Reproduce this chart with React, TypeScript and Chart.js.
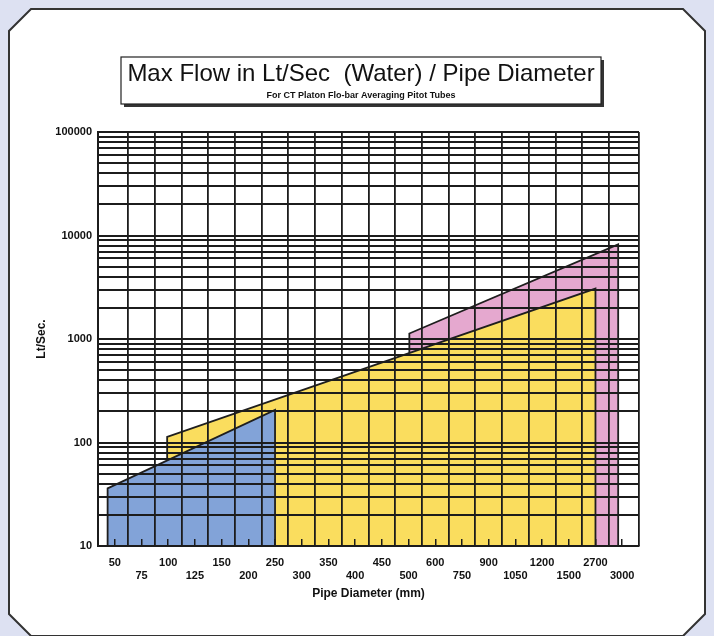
import React, { useEffect, useRef } from 'react';
import { Chart, registerables } from 'chart.js';

Chart.register(...registerables);

// ---- data ----
const categories = ['50', '75', '100', '125', '150', '200', '250', '300', '350', '400', '450', '500', '600', '750', '900', '1050', '1200', '1500', '2700', '3000'];
const yLabelValues = [10, 100, 1000, 10000, 100000];
const yDecades = [10, 100, 1000, 10000];
const yMultipliers = [1, 2, 3, 4, 5, 6, 7, 8, 9];

// polygon vertices: x = position on the pipe-diameter axis (category index), y = Lt/Sec
const blueX = [-0.27, -0.27, 6, 6];
const blueY = [10, 36, 206, 10];
const yellowX = [1.96, 1.96, 18, 18];
const yellowY = [10, 113, 3070, 10];
const pinkX = [11.03, 11.03, 18.85, 18.85];
const pinkY = [10, 1130, 8220, 10];

const xMin = -0.63;
const xMax = 19.63;

const FONT = '"Liberation Sans", Arial, Helvetica, sans-serif';
const GRID = '#1c1c1c';

const toPoints = (xs: number[], ys: number[]) => xs.map((x, i) => ({ x, y: ys[i] }));

const decorPlugin = {
  id: 'decor',
  beforeDraw(chart: any) {
    const ctx = chart.ctx as CanvasRenderingContext2D;
    const W = chart.width;
    const H = chart.height;
    ctx.save();
    ctx.fillStyle = '#dde1f2';
    ctx.fillRect(0, 0, W, H);
    // panel
    const L = 9, T = 9, R = 705, B = 636, c = 22;
    ctx.beginPath();
    ctx.moveTo(L + c, T);
    ctx.lineTo(R - c, T);
    ctx.lineTo(R, T + c);
    ctx.lineTo(R, B - c);
    ctx.lineTo(R - c, B);
    ctx.lineTo(L + c, B);
    ctx.lineTo(L, B - c);
    ctx.lineTo(L, T + c);
    ctx.closePath();
    ctx.fillStyle = '#ffffff';
    ctx.fill();
    ctx.lineWidth = 2;
    ctx.strokeStyle = '#333333';
    ctx.stroke();
    // title box with shadow
    const bx = 121, by = 57, bw = 480, bh = 47;
    ctx.fillStyle = '#333333';
    ctx.fillRect(bx + 3, by + 3, bw, bh);
    ctx.fillStyle = '#ffffff';
    ctx.fillRect(bx, by, bw, bh);
    ctx.lineWidth = 1.2;
    ctx.strokeStyle = '#222222';
    ctx.strokeRect(bx, by, bw, bh);
    ctx.fillStyle = '#111111';
    ctx.textAlign = 'center';
    ctx.textBaseline = 'middle';
    ctx.font = `24px ${FONT}`;
    ctx.fillText('Max Flow in Lt/Sec  (Water) / Pipe Diameter', bx + bw / 2, 74);
    ctx.font = `bold 9px ${FONT}`;
    ctx.fillText('For CT Platon Flo-bar Averaging Pitot Tubes', bx + bw / 2, 96);
    ctx.restore();
  },
};

export default function App() {
  const canvasRef = useRef<HTMLCanvasElement | null>(null);

  useEffect(() => {
    if (!canvasRef.current) return;
    const yGridValues: number[] = [];
    yDecades.forEach((d) => yMultipliers.forEach((m) => yGridValues.push(d * m)));
    yGridValues.push(100000);
    const xGridValues: number[] = categories.slice(0, categories.length - 1).map((_, i) => i + 0.5);
    xGridValues.push(xMax);

    const tickFont = { family: FONT, size: 11, weight: 'bold' as const };

    const chart = new Chart(canvasRef.current, {
      type: 'line',
      data: {
        datasets: [
          {
            label: 'blue',
            data: toPoints(blueX, blueY),
            backgroundColor: '#82a3d8',
            borderColor: '#1e1e1e',
            borderWidth: 1.8,
            pointRadius: 0,
            fill: 'start',
            tension: 0,
          },
          {
            label: 'yellow',
            data: toPoints(yellowX, yellowY),
            backgroundColor: '#fadd5e',
            borderColor: '#1e1e1e',
            borderWidth: 1.8,
            pointRadius: 0,
            fill: 'start',
            tension: 0,
          },
          {
            label: 'pink',
            data: toPoints(pinkX, pinkY),
            backgroundColor: '#e5a8cf',
            borderColor: '#1e1e1e',
            borderWidth: 1.8,
            pointRadius: 0,
            fill: 'start',
            tension: 0,
          },
        ],
      },
      options: {
        responsive: false,
        animation: false,
        devicePixelRatio: 1,
        layout: { padding: { top: 132, left: 0, right: 75, bottom: 30 } },
        plugins: {
          legend: { display: false },
          tooltip: { enabled: false },
          title: { display: false },
        },
        scales: {
          x: {
            type: 'linear',
            position: 'bottom',
            min: xMin,
            max: xMax,
            afterBuildTicks: (s: any) => {
              s.ticks = categories.map((_, i) => ({ value: i }));
            },
            afterFit: (s: any) => {
              s.height = 60;
            },
            ticks: {
              autoSkip: false,
              maxRotation: 0,
              minRotation: 0,
              padding: 17,
              color: '#111111',
              font: tickFont,
              callback: (v: any) => {
                const i = Math.round(Number(v));
                const lab = categories[i] ?? '';
                return i % 2 === 0 ? lab : ['', lab];
              },
            },
            grid: { drawOnChartArea: false, drawTicks: true, tickLength: -7, color: GRID, lineWidth: 1.5, z: 1 },
            border: { display: true, color: GRID, width: 2, z: 2 },
            title: {
              display: true,
              text: 'Pipe Diameter (mm)',
              color: '#111111',
              font: { family: FONT, size: 12, weight: 'bold' },
              padding: { top: 0, bottom: 5 },
            },
          },
          xg: {
            type: 'linear',
            position: 'top',
            min: xMin,
            max: xMax,
            afterBuildTicks: (s: any) => {
              s.ticks = xGridValues.map((v) => ({ value: v }));
            },
            afterFit: (s: any) => {
              s.height = 0;
            },
            ticks: { display: false },
            grid: { drawTicks: false, color: GRID, lineWidth: 1.8, z: 1 },
            border: { display: false },
          },
          y: {
            type: 'logarithmic',
            position: 'left',
            min: 10,
            max: 100000,
            afterBuildTicks: (s: any) => {
              s.ticks = yGridValues.map((v) => ({ value: v }));
            },
            afterFit: (s: any) => {
              s.width = 98;
            },
            ticks: {
              autoSkip: false,
              padding: 6,
              color: '#111111',
              font: tickFont,
              callback: (v: any) => (yLabelValues.includes(Number(v)) ? String(v) : ''),
            },
            grid: { drawTicks: false, color: GRID, lineWidth: 2, z: 1 },
            border: { display: true, color: GRID, width: 2, z: 2 },
            title: {
              display: true,
              text: 'Lt/Sec.',
              color: '#111111',
              font: { family: FONT, size: 12, weight: 'bold' },
              padding: { top: 34, bottom: 0 },
            },
          },
        },
      } as any,
      plugins: [decorPlugin],
    });
    return () => chart.destroy();
  }, []);

  return (
    <div style={{ position: 'fixed', left: 0, top: 0, width: 714, height: 636, overflow: 'hidden' }}>
      <canvas ref={canvasRef} width={714} height={636} style={{ display: 'block', width: 714, height: 636 }} />
    </div>
  );
}
